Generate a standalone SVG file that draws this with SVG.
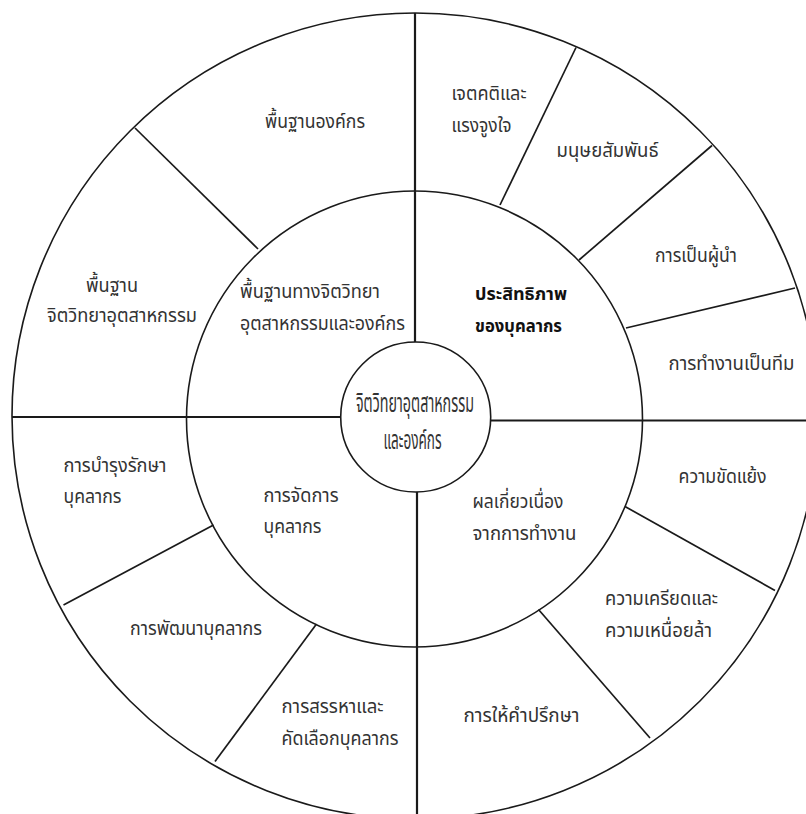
<svg xmlns="http://www.w3.org/2000/svg" width="806" height="814" viewBox="0 0 806 814">
<style>
.ring{fill:none;stroke:#1a1a1a;stroke-width:1.6}
.axis{stroke:#1a1a1a;stroke-width:2.2;fill:none}
.sp{stroke:#1a1a1a;stroke-width:1.7;fill:none}
text{font-family:"Noto Sans Thai","Tahoma","Noto Sans","DejaVu Sans",sans-serif;font-size:20px;fill:#333}
.b{font-weight:bold;fill:#111;font-size:17px}
.c{font-size:26px}
</style>
<defs>
<linearGradient id="fade" gradientUnits="userSpaceOnUse" x1="135" y1="128" x2="258" y2="249">
<stop offset="0" stop-color="#1a1a1a"/><stop offset="0.7" stop-color="#333"/><stop offset="1" stop-color="#cfcfcf"/>
</linearGradient>
</defs>
<rect width="806" height="814" fill="#fff"/>
<g id="structure">
<circle class="ring" cx="415" cy="416" r="403"/>
<circle class="ring" cx="414.5" cy="419" r="228"/>
<circle class="ring" cx="415.7" cy="417" r="75"/>
</g>
<g id="connectors">
<line class="axis" x1="415" y1="13" x2="415" y2="342"/>
<line class="axis" x1="417" y1="492" x2="417" y2="814"/>
<line class="axis" x1="12" y1="417" x2="341" y2="417"/>
<line class="axis" x1="490" y1="420.5" x2="806" y2="420.5"/>
<line class="sp" x1="135" y1="128" x2="258" y2="249" stroke="url(#fade)"/>
<line class="sp" x1="576" y1="47.5" x2="500" y2="205"/>
<line class="sp" x1="712" y1="145.5" x2="579" y2="260"/>
<line class="sp" x1="795" y1="288" x2="626" y2="328"/>
<line class="sp" x1="63.5" y1="605" x2="213.5" y2="525"/>
<line class="sp" x1="215" y1="761.5" x2="316.5" y2="624"/>
<line class="sp" x1="625" y1="506.5" x2="775" y2="590.5"/>
<line class="sp" x1="538.5" y1="609.5" x2="650" y2="738"/>
</g>
<g id="center"><text class="c" x="356" y="411.5" textLength="118" lengthAdjust="spacingAndGlyphs">จิตวิทยาอุตสาหกรรม</text><text class="c" x="383.5" y="449" textLength="58" lengthAdjust="spacingAndGlyphs">และองค์กร</text></g>
<g id="inner-foundation"><text x="240" y="298" textLength="140" lengthAdjust="spacingAndGlyphs">พื้นฐานทางจิตวิทยา</text><text x="240" y="330" textLength="165" lengthAdjust="spacingAndGlyphs">อุตสาหกรรมและองค์กร</text></g>
<g id="inner-effectiveness"><text class="b" x="475" y="300" textLength="92" lengthAdjust="spacingAndGlyphs">ประสิทธิภาพ</text><text class="b" x="475" y="331.5" textLength="87" lengthAdjust="spacingAndGlyphs">ของบุคลากร</text></g>
<g id="inner-management"><text x="263.5" y="501.5" textLength="75" lengthAdjust="spacingAndGlyphs">การจัดการ</text><text x="263.5" y="533" textLength="58" lengthAdjust="spacingAndGlyphs">บุคลากร</text></g>
<g id="inner-consequences"><text x="472.5" y="508" textLength="91" lengthAdjust="spacingAndGlyphs">ผลเกี่ยวเนื่อง</text><text x="472.5" y="540" textLength="104" lengthAdjust="spacingAndGlyphs">จากการทำงาน</text></g>
<g id="org-foundation"><text x="265" y="128" textLength="100" lengthAdjust="spacingAndGlyphs">พื้นฐานองค์กร</text></g>
<g id="iop-foundation"><text x="86" y="292" textLength="52" lengthAdjust="spacingAndGlyphs">พื้นฐาน</text><text x="47" y="321.5" textLength="150" lengthAdjust="spacingAndGlyphs">จิตวิทยาอุตสาหกรรม</text></g>
<g id="attitude"><text x="451.5" y="100" textLength="75" lengthAdjust="spacingAndGlyphs">เจตคติและ</text><text x="451.5" y="131.5" textLength="60" lengthAdjust="spacingAndGlyphs">แรงจูงใจ</text></g>
<g id="human-relations"><text x="556.5" y="156.5" textLength="102" lengthAdjust="spacingAndGlyphs">มนุษยสัมพันธ์</text></g>
<g id="leadership"><text x="655" y="261.5" textLength="82" lengthAdjust="spacingAndGlyphs">การเป็นผู้นำ</text></g>
<g id="teamwork"><text x="668.5" y="370" textLength="126" lengthAdjust="spacingAndGlyphs">การทำงานเป็นทีม</text></g>
<g id="conflict"><text x="678.5" y="483" textLength="88" lengthAdjust="spacingAndGlyphs">ความขัดแย้ง</text></g>
<g id="stress"><text x="605" y="605" textLength="113" lengthAdjust="spacingAndGlyphs">ความเครียดและ</text><text x="605" y="636.5" textLength="107" lengthAdjust="spacingAndGlyphs">ความเหนื่อยล้า</text></g>
<g id="counseling"><text x="463.5" y="721.5" textLength="116" lengthAdjust="spacingAndGlyphs">การให้คำปรึกษา</text></g>
<g id="maintenance"><text x="63.5" y="471.5" textLength="103" lengthAdjust="spacingAndGlyphs">การบำรุงรักษา</text><text x="63.5" y="502.5" textLength="58" lengthAdjust="spacingAndGlyphs">บุคลากร</text></g>
<g id="development"><text x="130" y="635" textLength="132" lengthAdjust="spacingAndGlyphs">การพัฒนาบุคลากร</text></g>
<g id="recruitment"><text x="281.5" y="713" textLength="102" lengthAdjust="spacingAndGlyphs">การสรรหาและ</text><text x="281.5" y="745" textLength="117" lengthAdjust="spacingAndGlyphs">คัดเลือกบุคลากร</text></g>
</svg>
